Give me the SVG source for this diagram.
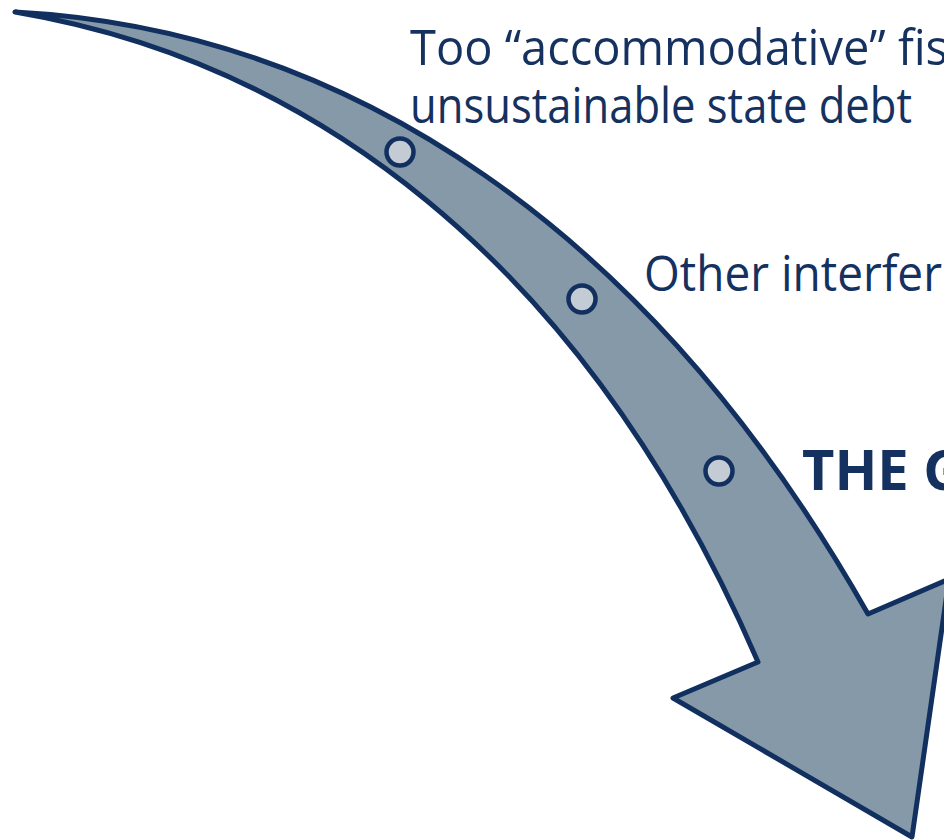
<svg xmlns="http://www.w3.org/2000/svg" width="944" height="840" viewBox="0 0 944 840">
<style>
.lbl{font-family:"Open Sans","Noto Sans",sans-serif;font-weight:400;font-size:50px;fill:#14315f}
.bold{font-family:"Noto Sans","Open Sans",sans-serif;font-weight:bold;font-size:56px}
.dot{fill:#c3cbd4;stroke:#11305f;stroke-width:4.5}
</style>
<rect width="944" height="840" fill="#ffffff"/>
<g id="connectors">
<path id="arrow" d="M15,12 C350,30 650,230 868,614 L949,579 L912,837 L673,698 L758,662 C580,250 300,60 15,12 Z" fill="#8699a8" stroke="#11305f" stroke-width="5" stroke-linejoin="round"/>
</g>
<g id="dot1"><circle class="dot" cx="400" cy="152" r="13.5"/></g>
<g id="dot2"><circle class="dot" cx="582" cy="299" r="13.5"/></g>
<g id="dot3"><circle class="dot" cx="719" cy="471" r="13.5"/></g>
<g id="label1">
<text class="lbl" x="410" y="65" textLength="538" lengthAdjust="spacingAndGlyphs">Too “accommodative” fis</text>
<text class="lbl" x="410" y="123" textLength="502" lengthAdjust="spacingAndGlyphs">unsustainable state debt</text>
</g>
<g id="label2"><text class="lbl" x="644" y="291" textLength="298" lengthAdjust="spacingAndGlyphs">Other interfer</text></g>
<g id="label3"><text class="lbl bold" x="802" y="490" textLength="162" lengthAdjust="spacingAndGlyphs">THE G</text></g>
</svg>
